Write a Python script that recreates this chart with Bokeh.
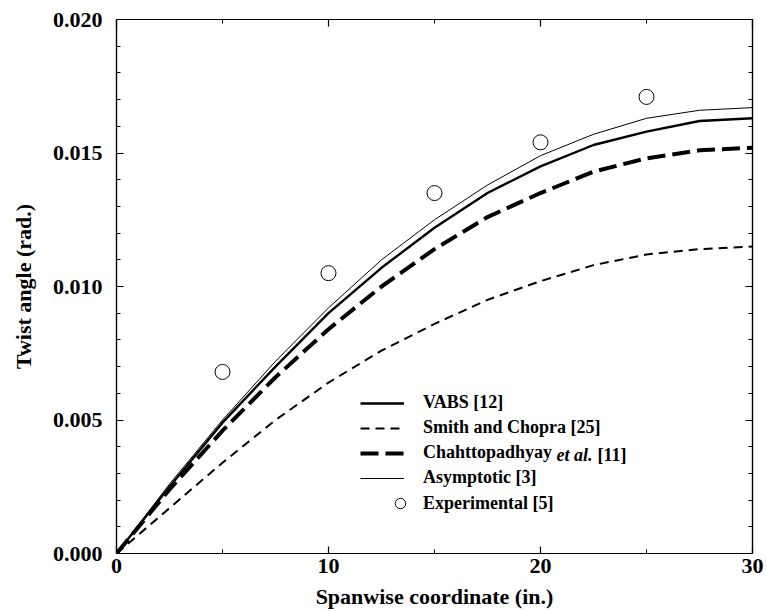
from bokeh.plotting import figure
from bokeh.models import (Range1d, SingleIntervalTicker, LinearAxis, Legend, LegendItem,
                          Label, NumeralTickFormatter, CustomJSTickFormatter)
from bokeh.embed import file_html
from bokeh.resources import INLINE

# ---- data ----
span_x = [0, 2.5, 5, 7.5, 10, 12.5, 15, 17.5, 20, 22.5, 25, 27.5, 30]
vabs = [0.0, 0.0025, 0.0049, 0.0070, 0.0090, 0.0107, 0.0122, 0.0135, 0.0145, 0.0153, 0.0158, 0.0162, 0.0163]
smith = [0.0, 0.0017, 0.0034, 0.0050, 0.0064, 0.0076, 0.0086, 0.0095, 0.0102, 0.0108, 0.0112, 0.0114, 0.0115]
chaht = [0.0, 0.0024, 0.0046, 0.0066, 0.0084, 0.0100, 0.0114, 0.0126, 0.0135, 0.0143, 0.0148, 0.0151, 0.0152]
asym = [0.0, 0.0026, 0.0050, 0.0072, 0.0092, 0.0110, 0.0125, 0.0138, 0.0149, 0.0157, 0.0163, 0.0166, 0.0167]
exp_x = [5, 10, 15, 20, 25]
exp_y = [0.0068, 0.0105, 0.0135, 0.0154, 0.0171]

x_ticks_major = 10
y_ticks_major = 0.005

FONT = "Liberation Serif"

p = figure(width=767, height=611, output_backend="svg", toolbar_location=None,
           x_range=Range1d(0, 30), y_range=Range1d(0, 0.020),
           min_border_left=116, min_border_right=15, min_border_top=19, min_border_bottom=58,
           x_axis_label="Spanwise coordinate (in.)", y_axis_label="Twist angle (rad.)")
p.grid.visible = False
p.outline_line_color = "black"
p.outline_line_width = 1.2
p.background_fill_color = "white"

bottom = p.below[0]
left = p.left[0]

xt = SingleIntervalTicker(interval=x_ticks_major, num_minor_ticks=2)
yt = SingleIntervalTicker(interval=y_ticks_major, num_minor_ticks=5)
bottom.ticker = xt
left.ticker = yt
left.formatter = NumeralTickFormatter(format="0.000")
bottom.formatter = NumeralTickFormatter(format="0")

blank = CustomJSTickFormatter(code="return ''")
right = LinearAxis(ticker=yt, formatter=blank, major_label_standoff=0)
top = LinearAxis(ticker=xt, formatter=blank, major_label_standoff=0)
p.add_layout(right, "right")
p.add_layout(top, "above")

for ax in [bottom, left, right, top]:
    ax.axis_line_color = "black"
    ax.axis_line_width = 1.2
    ax.major_tick_in = 7
    ax.major_tick_out = 0
    ax.minor_tick_in = 4
    ax.minor_tick_out = 0
    ax.major_tick_line_color = "black"
    ax.minor_tick_line_color = "black"
    ax.major_tick_line_width = 1.2
    ax.minor_tick_line_width = 1

for ax in [bottom, left]:
    ax.major_label_text_font = FONT
    ax.major_label_text_font_style = "bold"
    ax.major_label_text_font_size = "22px"
    ax.major_label_text_color = "black"
    ax.axis_label_text_font = FONT
    ax.axis_label_text_font_style = "bold"
    ax.axis_label_text_font_size = "22px"
    ax.axis_label_text_color = "black"

bottom.major_label_standoff = 5
bottom.axis_label_standoff = 8
left.major_label_standoff = 14
left.axis_label_standoff = 14

r_vabs = p.line(span_x, vabs, line_color="black", line_width=2.4)
r_smith = p.line(span_x, smith, line_color="black", line_width=2, line_dash="9 6")
r_chaht = p.line(span_x, chaht, line_color="black", line_width=4, line_dash="18 7")
r_asym = p.line(span_x, asym, line_color="black", line_width=1)
r_exp = p.scatter(exp_x, exp_y, marker="circle", size=15, line_color="black",
                  line_width=1, fill_color=None)

legend = Legend(items=[
    LegendItem(label="VABS [12]", renderers=[r_vabs]),
    LegendItem(label="Smith and Chopra [25]", renderers=[r_smith]),
    LegendItem(label="Chahttopadhyay", renderers=[r_chaht]),
    LegendItem(label="Asymptotic [3]", renderers=[r_asym]),
], location=(244, 65), glyph_width=44, glyph_height=20, label_height=20, spacing=4,
    label_standoff=19, padding=0, margin=0, border_line_color=None,
    background_fill_alpha=0, label_text_font=FONT, label_text_font_style="bold",
    label_text_font_size="18px", label_text_color="black")
p.add_layout(legend)

legend2 = Legend(items=[LegendItem(label="Experimental [5]", renderers=[r_exp])],
                 location=(271, 37), glyph_width=26, glyph_height=26, label_height=26,
                 label_standoff=10, padding=0, margin=0, border_line_color=None,
                 background_fill_alpha=0, label_text_font=FONT, label_text_font_style="bold",
                 label_text_font_size="18px", label_text_color="black")
p.add_layout(legend2)

p.add_layout(Label(x=440, y=99, x_units="screen", y_units="screen", text="et al.",
                   text_font=FONT, text_font_style="bold italic", text_font_size="18px",
                   text_baseline="middle", text_color="black"))
p.add_layout(Label(x=481, y=99, x_units="screen", y_units="screen", text="[11]",
                   text_font=FONT, text_font_style="bold", text_font_size="18px",
                   text_baseline="middle", text_color="black"))

open("out.html", "w").write(file_html(p, INLINE))
